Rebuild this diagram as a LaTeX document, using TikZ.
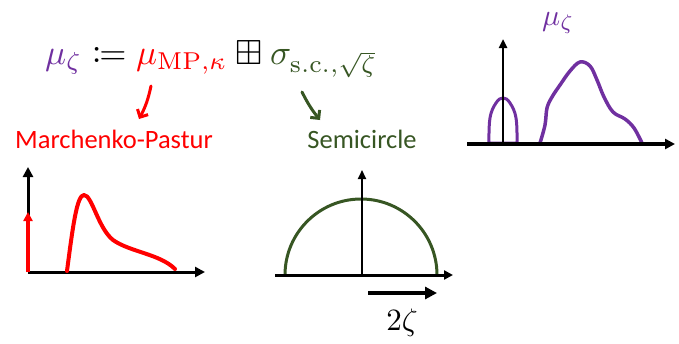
\RequirePackage{fix-cm}
\documentclass[tikz,border=0pt]{standalone}
\usepackage{graphicx}
\usepackage{amssymb}
\usepackage{mathtools}
\usepackage{fontspec}
\newfontfamily\labelfont{Carlito}
\usetikzlibrary{positioning,arrows.meta}
\definecolor{zetapurple}{HTML}{7030A0}
\definecolor{mpred}{HTML}{FF0000}
\definecolor{scgreen}{HTML}{375623}
\tikzset{
  axis/.style={line width=3pt,-{Triangle[length=10pt,width=10pt]}},
  thinaxis/.style={line width=2pt,-{Triangle[length=9pt,width=8pt]}},
  densline/.style={line width=3.5pt,line cap=round,line join=round},
  handarrow/.style={line width=3pt,line cap=round,-{Straight Barb[length=6pt,width=12pt,line width=3pt]}},
  caption/.style={font=\labelfont\fontsize{26.5}{30}\selectfont}
}
\begin{document}
\begin{tikzpicture}[x=1pt,y=-1pt]
\useasboundingbox (0,0) rectangle (679,343);

% the formula and its two labels
\node[anchor=base west,inner sep=0pt] (defn) at (45,64)
  {\resizebox{332pt}{!}{$\color{zetapurple}\mu_\zeta \color{black}\coloneqq \color{mpred}\mu_{\mathrm{MP},\kappa}
    \color{black}\boxplus \color{scgreen}\sigma_{\mathrm{s.c.},\sqrt{\zeta}}$}};
\node[caption,text=mpred] (mplabel) at (114,139) {Marchenko-Pastur};
\node[caption,text=scgreen] (sclabel) at (362,139) {Semicircle};
\coordinate (mpfrom) at (151,86);
\coordinate (mpto) at (139,119);
\coordinate (scfrom) at (302,92);
\coordinate (scto) at (320,120);
\draw[handarrow,mpred] (mpfrom) to[bend left=8] (mpto);
\draw[handarrow,scgreen] (scfrom) to[bend right=6] (scto);

% Marchenko-Pastur density
\coordinate (mporig) at (28,272);
\coordinate (mpx) at (205,272);
\coordinate (mpy) at (28,167);
\coordinate (mpspike) at (28,212);
\draw[axis] (mporig) -- (mpx);
\draw[axis] (mporig) -- (mpy);
\draw[line width=3.5pt,mpred,-{Triangle[length=9pt,width=9pt]}] (mporig) -- (mpspike);
\draw[densline,mpred,line width=4pt] (67,271) .. controls (73,225) and (77,195) .. (84,195)
  .. controls (92,195) and (98,228) .. (113,240) .. controls (130,252) and (160,254) .. (175,269);

% semicircle density
\coordinate (scorig) at (362,275);
\coordinate (scleft) at (275,275);
\coordinate (scx) at (453,275);
\coordinate (scy) at (362,170);
\draw[densline,scgreen,line width=3pt] (285,275) arc[start angle=-180,end angle=0,radius=76];
\draw[axis,line width=3pt,-{Triangle[length=9pt,width=9pt]}] (scleft) -- (scx);
\draw[thinaxis] (scorig) -- (scy);
\coordinate (widthfrom) at (368,293);
\coordinate (widthto) at (437,293);
\draw[line width=4pt,-{Triangle[length=12pt,width=12pt]}] (widthfrom) -- (widthto);
\node (widthlabel) at (402,323) {\scalebox{3.1}{$2\zeta$}};

% free convolution
\node[text=zetapurple,anchor=base west,inner sep=0pt] (mulabel) at (542,25) {\scalebox{3}{$\mu_\zeta$}};
\coordinate (muorig) at (503,144);
\coordinate (muleft) at (467,144);
\coordinate (mux) at (675,144);
\coordinate (muy) at (503,39);
\draw[densline,zetapurple,line width=3pt] plot[smooth,tension=0.7] coordinates {(489,143) (490,118) (496,103) (503,98) (510,103) (516,118) (517,143)} -- cycle;
\draw[densline,zetapurple] plot[smooth,tension=0.6] coordinates {(540,143) (545,125) (547,108) (552,97) (560,85) (570,71) (580,62) (590,66) (597,80) (604,97) (613,112) (625,119) (634,128) (642,143)};
\draw[axis,line width=3.5pt] (muleft) -- (mux);
\draw[thinaxis,line width=2.5pt] (muorig) -- (muy);
\end{tikzpicture}
\end{document}
